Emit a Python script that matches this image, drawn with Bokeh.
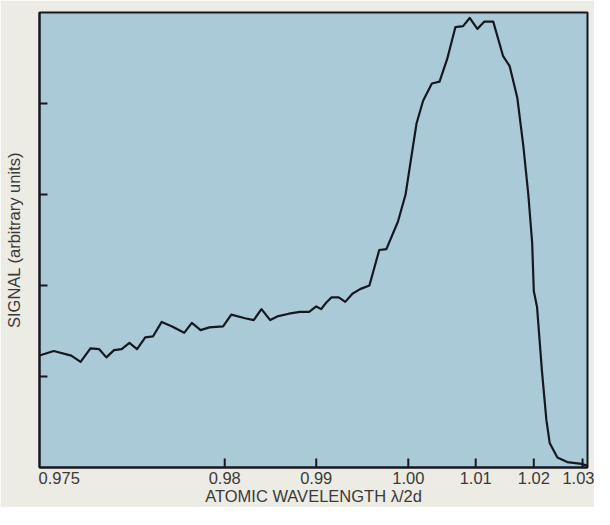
from bokeh.plotting import figure
from bokeh.models import FixedTicker, Range1d
from bokeh.embed import file_html
from bokeh.resources import INLINE

# scan position along the (non-linear) wavelength axis, 0..100 across the frame
scan_pos = [0.0, 2.6, 5.8, 7.5, 9.3, 10.9, 12.2, 13.6, 15.0, 16.4, 17.8, 19.3, 20.7,
            22.3, 24.2, 26.4, 27.8, 29.4, 31.0, 33.5, 35.0, 37.5, 39.1, 40.5, 42.1,
            43.4, 45.5, 47.5, 49.2, 50.5, 51.4, 52.3, 53.3, 54.6, 55.8, 57.1, 58.5,
            60.2, 62.0, 63.3, 65.4, 66.8, 67.9, 68.8, 70.0, 71.6, 73.0, 74.4, 75.9,
            77.3, 78.5, 79.9, 81.2, 82.8, 84.6, 85.8, 87.2, 88.3, 89.2, 89.9, 90.2,
            90.8, 91.7, 92.5, 93.1, 94.5, 96.3, 98.9, 100.0]
signal = [1.23, 1.28, 1.23, 1.16, 1.31, 1.30, 1.21, 1.29, 1.30, 1.37, 1.30, 1.43, 1.44,
          1.60, 1.55, 1.48, 1.59, 1.51, 1.54, 1.55, 1.68, 1.64, 1.62, 1.74, 1.62,
          1.66, 1.69, 1.71, 1.71, 1.77, 1.74, 1.81, 1.87, 1.87, 1.82, 1.91, 1.96,
          2.00, 2.39, 2.40, 2.70, 3.00, 3.43, 3.78, 4.03, 4.22, 4.24, 4.49, 4.84,
          4.85, 4.94, 4.82, 4.90, 4.90, 4.52, 4.41, 4.06, 3.53, 3.00, 2.47, 1.94,
          1.76, 1.05, 0.52, 0.27, 0.11, 0.06, 0.04, 0.02]

# tick marks (drawn inside the frame) and their labels
x_tick_pos = [33.8, 50.5, 67.3, 79.6, 90.2, 99.1]
x_tick_labels = ["0.98", "0.99", "1.00", "1.01", "1.02", "1.03"]
# the first label sits at the left corner, without a tick mark
first_label_pos = 3.6
first_label = "0.975"
y_ticks = [1, 2, 3, 4]

X_MIN, X_MAX = 0, 100
Y_MIN, Y_MAX = 0, 5
FRAME_W, FRAME_H = 548, 455
X_TICK_PX, Y_TICK_PX = 9, 8

PAGE_BG = "#ecebe4"
PLOT_BG = "#aacad8"
INK = "#15181f"
TEXT = "#3a3a3a"
FONT = "Liberation Sans"

p = figure(frame_width=FRAME_W, frame_height=FRAME_H, output_backend="svg",
           toolbar_location=None,
           x_range=Range1d(X_MIN, X_MAX), y_range=Range1d(Y_MIN, Y_MAX),
           min_border_left=39, min_border_right=7, min_border_top=12, min_border_bottom=30)
p.background_fill_color = PLOT_BG
p.border_fill_color = PAGE_BG
p.outline_line_color = INK
p.outline_line_width = 2
p.grid.visible = False

# inward tick marks
x_tick_len = X_TICK_PX * (Y_MAX - Y_MIN) / FRAME_H
y_tick_len = Y_TICK_PX * (X_MAX - X_MIN) / FRAME_W
p.segment(x0=x_tick_pos, y0=[Y_MIN] * len(x_tick_pos),
          x1=x_tick_pos, y1=[Y_MIN + x_tick_len] * len(x_tick_pos),
          line_color=INK, line_width=2)
p.segment(x0=[X_MIN] * len(y_ticks), y0=y_ticks,
          x1=[X_MIN + y_tick_len] * len(y_ticks), y1=y_ticks,
          line_color=INK, line_width=2)

p.line(scan_pos, signal, line_color=INK, line_width=2.2, line_join="round")

label_pos = [first_label_pos] + x_tick_pos
label_txt = [first_label] + x_tick_labels

xa = p.xaxis[0]
xa.ticker = FixedTicker(ticks=label_pos)
xa.major_label_overrides = {t: l for t, l in zip(label_pos, label_txt)}
xa.major_tick_in = 0
xa.major_tick_out = 0
xa.minor_tick_in = 0
xa.minor_tick_out = 0
xa.axis_line_color = INK
xa.axis_line_width = 2
xa.major_label_standoff = 4
xa.major_label_text_font = FONT
xa.major_label_text_font_size = "16.5px"
xa.major_label_text_color = TEXT
xa.axis_label = "ATOMIC WAVELENGTH \u03bb/2d"
xa.axis_label_text_font = FONT
xa.axis_label_text_font_size = "16.5px"
xa.axis_label_text_font_style = "normal"
xa.axis_label_text_color = TEXT
xa.axis_label_standoff = 0

ya = p.yaxis[0]
ya.ticker = FixedTicker(ticks=[])
ya.major_tick_in = 0
ya.major_tick_out = 0
ya.minor_tick_in = 0
ya.minor_tick_out = 0
ya.axis_line_color = INK
ya.axis_line_width = 2
ya.major_label_standoff = 0
ya.axis_label = "SIGNAL (arbitrary units)"
ya.axis_label_text_font = FONT
ya.axis_label_text_font_size = "16.5px"
ya.axis_label_text_font_style = "normal"
ya.axis_label_text_color = TEXT
ya.axis_label_standoff = 17

open("out.html", "w").write(file_html(p, INLINE))
